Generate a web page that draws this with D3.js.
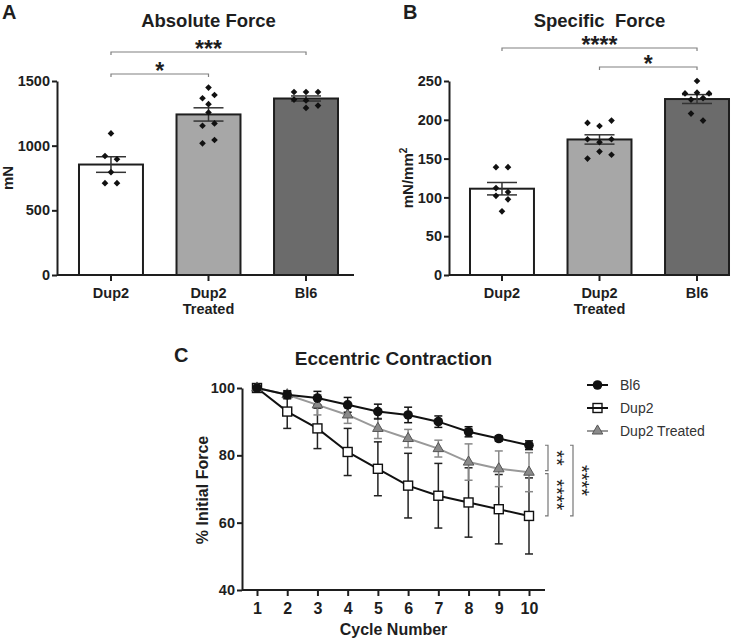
<!DOCTYPE html>
<html><head><meta charset="utf-8">
<script src="https://cdn.jsdelivr.net/npm/d3@7"></script>
<style>html,body{margin:0;padding:0;background:#fff;} svg{display:block;}</style>
</head><body>
<svg id="chart" width="747" height="639"></svg>
<script>
// ---------- data ----------
const barCategories = ["Dup2", "Dup2 Treated", "Bl6"];
const barCategoryLines = [["Dup2"], ["Dup2", "Treated"], ["Bl6"]];

const absoluteDup2 = [1095, 920, 895, 795, 710, 710];
const absoluteDup2Treated = [1449, 1367, 1392, 1321, 1256, 1154, 1172, 1018, 1044];
const absoluteBl6 = [1415, 1415, 1415, 1292, 1356, 1350, 1310];
const absoluteTicks = [0, 500, 1000, 1500];
const absoluteSignificance = [
  {from: "Dup2", to: "Dup2 Treated", label: "*"},
  {from: "Dup2", to: "Bl6", label: "***"}
];

const specificDup2 = [139, 139, 112, 107, 102, 97.5, 82];
const specificDup2Treated = [196, 192, 199, 175, 171, 175, 150, 159, 155];
const specificBl6 = [250, 234, 235, 234, 226, 228, 208, 199];
const specificTicks = [0, 50, 100, 150, 200, 250];
const specificSignificance = [
  {from: "Dup2", to: "Bl6", label: "****"},
  {from: "Dup2 Treated", to: "Bl6", label: "*"}
];

const cycles = [1, 2, 3, 4, 5, 6, 7, 8, 9, 10];
const bl6Mean = [100, 98, 97, 95, 93, 92, 90, 87, 85, 83];
const bl6Err = [0, 1.2, 2, 2.2, 2.2, 2.3, 1.7, 1.5, 0.8, 1.3];
const dup2Mean = [100, 93, 88, 81, 76, 71, 68, 66, 64, 62];
const dup2Err = [0, 5, 6, 7, 8, 9.6, 9.6, 10.3, 10.3, 11.3];
const treatedMean = [100, 98, 95, 92, 88, 85, 82, 78, 76, 75];
const treatedErr = [0, 1, 3, 2.5, 3, 2.7, 2.5, 5.4, 5.3, 5.8];
const eccentricYTicks = [40, 60, 80, 100];
const eccentricSeriesNames = ["Bl6", "Dup2", "Dup2 Treated"];
const eccentricSignificance = [
  {a: "Bl6", b: "Dup2 Treated", label: "**"},
  {a: "Dup2 Treated", b: "Dup2", label: "****"},
  {a: "Bl6", b: "Dup2", label: "****"}
];

// ---------- helpers ----------
const FF = "'Liberation Sans', Arial, Helvetica, sans-serif";
const INK = "#1e1e1e";
const svg = d3.select("#chart");
svg.append("rect").attr("width", 747).attr("height", 639).attr("fill", "#fff");

function styleAxis(g, size) {
  g.selectAll("path,line").attr("stroke", INK).attr("stroke-width", 2);
  g.selectAll("text").attr("fill", INK).style("font-family", FF)
    .style("font-weight", "bold").style("font-size", size + "px");
}

function swarm(values, y, threshold, maxPerRow, spacing) {
  const idx = values.map((v, i) => i).sort((a, b) => values[b] - values[a] || a - b);
  const offsets = new Array(values.length).fill(0);
  let i = 0;
  while (i < idx.length) {
    const start = idx[i];
    const group = [start];
    let j = i + 1;
    while (j < idx.length && group.length < maxPerRow &&
           Math.abs(y(values[idx[j]]) - y(values[start])) < threshold) {
      group.push(idx[j]); j++;
    }
    group.sort((a, b) => a - b);
    group.forEach((g, k) => offsets[g] = (k - (group.length - 1) / 2) * spacing);
    i = j;
  }
  return offsets;
}

const barFills = {"Dup2": "#ffffff", "Dup2 Treated": "#a7a7a7", "Bl6": "#6b6b6b"};

function barPanel(cfg) {
  const g = svg.append("g");
  const x = d3.scaleBand().domain(barCategories).range(cfg.bandRange)
    .paddingInner(0.344).paddingOuter(0.164);
  const y = d3.scaleLinear().domain([0, d3.max(cfg.ticks)]).range([275, 81]);
  const groups = barCategories.map((c, i) => {
    const vals = cfg.points[i];
    const mean = d3.mean(vals);
    const sem = d3.deviation(vals) / Math.sqrt(vals.length);
    return {cat: c, vals, mean, sem};
  });

  // bars
  g.selectAll("rect.bar").data(groups).join("rect")
    .attr("x", d => x(d.cat)).attr("width", x.bandwidth())
    .attr("y", d => y(d.mean)).attr("height", d => y(0) - y(d.mean))
    .attr("fill", d => barFills[d.cat]).attr("stroke", INK).attr("stroke-width", 2);

  // error bars
  const capW = 30;
  groups.forEach(d => {
    const cx = x(d.cat) + x.bandwidth() / 2;
    const eg = g.append("g").attr("stroke", "#333").attr("stroke-width", 1.5);
    eg.append("line").attr("x1", cx).attr("x2", cx).attr("y1", y(d.mean - d.sem)).attr("y2", y(d.mean + d.sem));
    eg.append("line").attr("x1", cx - capW / 2).attr("x2", cx + capW / 2).attr("y1", y(d.mean + d.sem)).attr("y2", y(d.mean + d.sem));
    eg.append("line").attr("x1", cx - capW / 2).attr("x2", cx + capW / 2).attr("y1", y(d.mean - d.sem)).attr("y2", y(d.mean - d.sem));
  });

  // points
  const diamond = d3.symbol().type(d3.symbolSquare).size(22);
  groups.forEach(d => {
    const cx = x(d.cat) + x.bandwidth() / 2;
    const off = swarm(d.vals, y, 7.2, 3, 12);
    g.selectAll(null).data(d.vals).join("path")
      .attr("d", diamond)
      .attr("transform", (v, i) => `translate(${cx + off[i]},${y(v)}) rotate(45)`)
      .attr("fill", "#111");
  });

  // y axis
  const ya = g.append("g").attr("transform", `translate(${cfg.axisX},0)`)
    .call(d3.axisLeft(y).tickValues(cfg.ticks).tickSize(5).tickSizeOuter(0).tickPadding(2).tickFormat(d3.format("d")));
  styleAxis(ya, 14.5);

  // x axis
  const xa = g.append("g").attr("transform", `translate(0,275)`)
    .call(d3.axisBottom(x).tickSize(6).tickSizeOuter(0).tickFormat(""));
  xa.select(".domain").remove();
  styleAxis(xa, 14.5);
  g.append("line").attr("x1", cfg.axisX).attr("x2", cfg.axisEnd).attr("y1", 275).attr("y2", 275)
    .attr("stroke", INK).attr("stroke-width", 2);
  barCategories.forEach((c, i) => {
    const t = g.append("text").attr("x", x(c) + x.bandwidth() / 2).attr("y", 298)
      .attr("text-anchor", "middle").style("font-family", FF).style("font-weight", "bold")
      .style("font-size", "14.5px").attr("fill", INK);
    barCategoryLines[i].forEach((ln, k) => t.append("tspan").attr("x", x(c) + x.bandwidth() / 2).attr("dy", k ? 15.5 : 0).text(ln));
  });

  // y label
  const yl = g.append("text").attr("transform", `translate(${cfg.yLabelX},178) rotate(-90)`)
    .attr("text-anchor", "middle").style("font-family", FF).style("font-weight", "bold")
    .style("font-size", "15px").attr("fill", INK);
  yl.append("tspan").text(cfg.yLabel);
  if (cfg.yLabelSup) yl.append("tspan").attr("dy", -6).style("font-size", "10px").text(cfg.yLabelSup);

  // title + letter
  g.append("text").attr("x", x(barCategories[1]) + x.bandwidth() / 2).attr("y", 27)
    .attr("text-anchor", "middle").style("font-family", FF).style("font-weight", "bold")
    .style("font-size", "18.5px").attr("fill", INK).style("white-space", "pre").text(cfg.title);
  g.append("text").attr("x", cfg.letterX).attr("y", 19).style("font-family", FF).style("font-weight", "bold")
    .style("font-size", "20px").attr("fill", INK).text(cfg.letter);

  // significance brackets
  cfg.sig.forEach(s => {
    const i0 = barCategories.indexOf(s.from), i1 = barCategories.indexOf(s.to);
    const level = Math.abs(i1 - i0) - 1;
    const by = cfg.sigBase - level * cfg.sigGap;
    const x0 = x(s.from) + x.bandwidth() / 2, x1 = x(s.to) + x.bandwidth() / 2;
    g.append("path").attr("d", `M${x0},${by + 3}V${by}H${x1}V${by + 3}`)
      .attr("fill", "none").attr("stroke", "#808080").attr("stroke-width", 1.2);
    g.append("text").attr("x", (x0 + x1) / 2).attr("y", by + 5).attr("text-anchor", "middle")
      .style("font-family", FF).style("font-weight", "bold").style("font-size", "23px")
      .attr("fill", INK).text(s.label);
  });
}

barPanel({
  bandRange: [63, 354], axisX: 57, axisEnd: 354, ticks: absoluteTicks,
  points: [absoluteDup2, absoluteDup2Treated, absoluteBl6],
  yLabel: "mN", yLabelX: 13, title: "Absolute Force", letter: "A", letterX: 2,
  sig: absoluteSignificance, sigBase: 74, sigGap: 22
});
barPanel({
  bandRange: [454, 745], axisX: 449, axisEnd: 729, ticks: specificTicks,
  points: [specificDup2, specificDup2Treated, specificBl6],
  yLabel: "mN/mm", yLabelSup: "2", yLabelX: 413, title: "Specific  Force", letter: "B", letterX: 403,
  sig: specificSignificance, sigBase: 67, sigGap: 19
});

// ---------- panel C ----------
(function () {
  const g = svg.append("g");
  const x = d3.scaleLinear().domain([1, 10]).range([257, 529]);
  const y = d3.scaleLinear().domain([40, 100]).range([590, 388]);
  const series = [
    {name: "Dup2", mean: dup2Mean, err: dup2Err, line: "#111", errColor: "#222"},
    {name: "Dup2 Treated", mean: treatedMean, err: treatedErr, line: "#999", errColor: "#888"},
    {name: "Bl6", mean: bl6Mean, err: bl6Err, line: "#111", errColor: "#111"}
  ];
  const cap = 4;
  series.forEach(s => {
    const eg = g.append("g").attr("stroke", s.errColor).attr("stroke-width", 1.5);
    cycles.forEach((c, i) => {
      if (!s.err[i]) return;
      const cx = x(c), yt = y(s.mean[i] + s.err[i]), yb = y(s.mean[i] - s.err[i]);
      eg.append("line").attr("x1", cx).attr("x2", cx).attr("y1", yt).attr("y2", yb);
      eg.append("line").attr("x1", cx - cap).attr("x2", cx + cap).attr("y1", yt).attr("y2", yt);
      eg.append("line").attr("x1", cx - cap).attr("x2", cx + cap).attr("y1", yb).attr("y2", yb);
    });
  });
  const line = d3.line().x((d, i) => x(cycles[i])).y(d => y(d));
  series.forEach(s => {
    g.append("path").datum(s.mean).attr("d", line).attr("fill", "none")
      .attr("stroke", s.line).attr("stroke-width", 2);
  });
  function marker(sel, name) {
    if (name === "Bl6") {
      sel.append("circle").attr("r", 4.8).attr("fill", "#111");
    } else if (name === "Dup2") {
      sel.append("rect").attr("x", -4.5).attr("y", -4.5).attr("width", 9).attr("height", 9)
        .attr("fill", "#fff").attr("stroke", "#111").attr("stroke-width", 1.4);
    } else {
      sel.append("path").attr("d", d3.symbol().type(d3.symbolTriangle).size(48))
        .attr("fill", "#8a8a8a").attr("stroke", "#555").attr("stroke-width", 1);
    }
  }
  series.forEach(s => {
    cycles.forEach((c, i) => {
      const mg = g.append("g").attr("transform", `translate(${x(c)},${y(s.mean[i])})`);
      marker(mg, s.name);
    });
  });

  // axes
  const ya = g.append("g").attr("transform", "translate(242,0)")
    .call(d3.axisLeft(y).tickValues(eccentricYTicks).tickSize(5).tickSizeOuter(0).tickPadding(2));
  styleAxis(ya, 14.5);
  const xa = g.append("g").attr("transform", "translate(0,590)")
    .call(d3.axisBottom(x).tickValues(cycles).tickSize(6).tickSizeOuter(0).tickPadding(7).tickFormat(d3.format("d")));
  xa.select(".domain").remove();
  styleAxis(xa, 16);
  g.append("line").attr("x1", 242).attr("x2", 545).attr("y1", 590).attr("y2", 590)
    .attr("stroke", INK).attr("stroke-width", 2);

  g.append("text").attr("x", 393.5).attr("y", 634.5).attr("text-anchor", "middle")
    .style("font-family", FF).style("font-weight", "bold").style("font-size", "16px").attr("fill", INK)
    .text("Cycle Number");
  g.append("text").attr("transform", "translate(208,490) rotate(-90)").attr("text-anchor", "middle")
    .style("font-family", FF).style("font-weight", "bold").style("font-size", "16px").attr("fill", INK)
    .text("% Initial Force");
  g.append("text").attr("x", 393.5).attr("y", 365).attr("text-anchor", "middle")
    .style("font-family", FF).style("font-weight", "bold").style("font-size", "19px").attr("fill", INK)
    .text("Eccentric Contraction");
  g.append("text").attr("x", 174).attr("y", 362)
    .style("font-family", FF).style("font-weight", "bold").style("font-size", "20px").attr("fill", INK)
    .text("C");

  // legend
  const legendOrder = eccentricSeriesNames;
  legendOrder.forEach((name, k) => {
    const s = series.find(d => d.name === name);
    const ly = 385 + k * 23;
    const lg = g.append("g");
    lg.append("line").attr("x1", 587).attr("x2", 608).attr("y1", ly).attr("y2", ly)
      .attr("stroke", s.line).attr("stroke-width", 2);
    const mg = lg.append("g").attr("transform", `translate(597.5,${ly})`);
    marker(mg, name);
    if (name === "Dup2") mg.append("line").attr("x1", -4.5).attr("x2", 4.5).attr("stroke", "#111").attr("stroke-width", 2);
    lg.append("text").attr("x", 620).attr("y", ly + 5).style("font-family", FF)
      .style("font-size", "14px").attr("fill", "#333").text(name);
  });

  // significance brackets at last cycle
  const last = cycles.length - 1;
  const lastVal = {};
  series.forEach(s => lastVal[s.name] = s.mean[last]);
  eccentricSignificance.forEach((s, k) => {
    const va = lastVal[s.a], vb = lastVal[s.b];
    const spanAll = (Math.max(va, vb) === d3.max(Object.values(lastVal))) && (Math.min(va, vb) === d3.min(Object.values(lastVal)));
    const bx = spanAll ? 573 : 548;
    let y0 = y(Math.max(va, vb)), y1 = y(Math.min(va, vb));
    if (!spanAll) {
      if (Math.max(va, vb) !== d3.max(Object.values(lastVal))) y0 += 1.5;
      if (Math.min(va, vb) !== d3.min(Object.values(lastVal))) y1 -= 1.5;
    }
    g.append("path").attr("d", `M${bx - 3},${y0}H${bx}V${y1}H${bx - 3}`)
      .attr("fill", "none").attr("stroke", "#777").attr("stroke-width", 1.2);
    g.append("text").attr("transform", `translate(${bx + 2},${(y0 + y1) / 2}) rotate(90)`)
      .attr("text-anchor", "middle").style("font-family", FF).style("font-size", "20px")
      .attr("fill", INK).text(s.label);
  });
})();
</script>
</body></html>
